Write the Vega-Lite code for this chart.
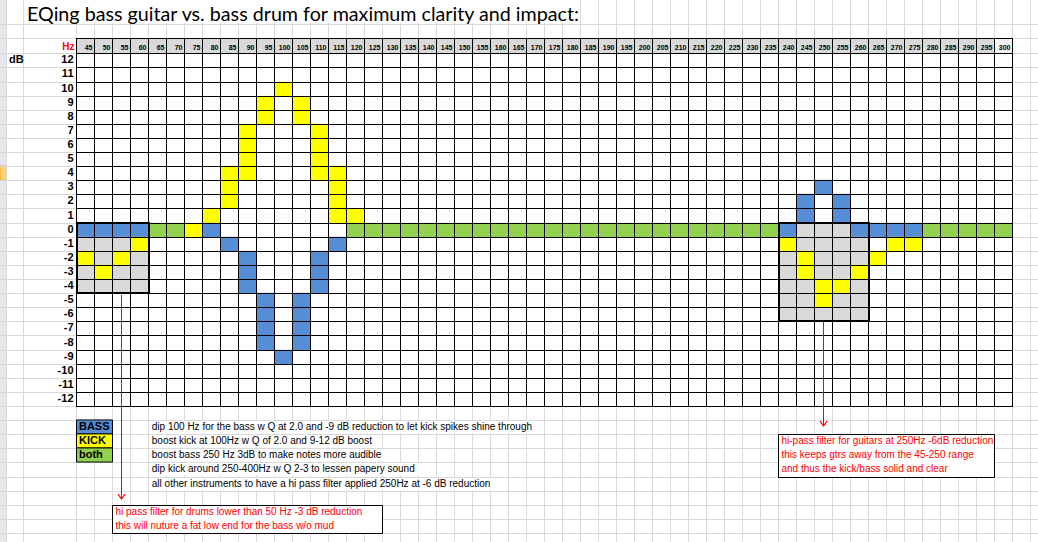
{
  "$schema": "https://vega.github.io/schema/vega-lite/v6.json",
  "width": 1038,
  "height": 542,
  "padding": 0,
  "autosize": {"type": "none"},
  "background": "white",
  "config": {"view": {"stroke": null}},
  "datasets": {
    "cells": [
      {"hz": 100, "db": 10, "who": "kick"},
      {"hz": 95, "db": 9, "who": "kick"}, {"hz": 105, "db": 9, "who": "kick"},
      {"hz": 95, "db": 8, "who": "kick"}, {"hz": 105, "db": 8, "who": "kick"},
      {"hz": 90, "db": 7, "who": "kick"}, {"hz": 110, "db": 7, "who": "kick"},
      {"hz": 90, "db": 6, "who": "kick"}, {"hz": 110, "db": 6, "who": "kick"},
      {"hz": 90, "db": 5, "who": "kick"}, {"hz": 110, "db": 5, "who": "kick"},
      {"hz": 85, "db": 4, "who": "kick"}, {"hz": 90, "db": 4, "who": "kick"}, {"hz": 110, "db": 4, "who": "kick"}, {"hz": 115, "db": 4, "who": "kick"},
      {"hz": 85, "db": 3, "who": "kick"}, {"hz": 115, "db": 3, "who": "kick"}, {"hz": 250, "db": 3, "who": "bass"},
      {"hz": 85, "db": 2, "who": "kick"}, {"hz": 115, "db": 2, "who": "kick"}, {"hz": 245, "db": 2, "who": "bass"}, {"hz": 255, "db": 2, "who": "bass"},
      {"hz": 80, "db": 1, "who": "kick"}, {"hz": 115, "db": 1, "who": "kick"}, {"hz": 120, "db": 1, "who": "kick"}, {"hz": 245, "db": 1, "who": "bass"}, {"hz": 255, "db": 1, "who": "bass"},
      {"hz": 45, "db": 0, "who": "bass"}, {"hz": 50, "db": 0, "who": "bass"}, {"hz": 55, "db": 0, "who": "bass"}, {"hz": 60, "db": 0, "who": "bass"},
      {"hz": 65, "db": 0, "who": "both"}, {"hz": 70, "db": 0, "who": "both"}, {"hz": 75, "db": 0, "who": "kick"}, {"hz": 80, "db": 0, "who": "bass"},
      {"hz": 120, "db": 0, "who": "both"}, {"hz": 125, "db": 0, "who": "both"}, {"hz": 130, "db": 0, "who": "both"}, {"hz": 135, "db": 0, "who": "both"},
      {"hz": 140, "db": 0, "who": "both"}, {"hz": 145, "db": 0, "who": "both"}, {"hz": 150, "db": 0, "who": "both"}, {"hz": 155, "db": 0, "who": "both"},
      {"hz": 160, "db": 0, "who": "both"}, {"hz": 165, "db": 0, "who": "both"}, {"hz": 170, "db": 0, "who": "both"}, {"hz": 175, "db": 0, "who": "both"},
      {"hz": 180, "db": 0, "who": "both"}, {"hz": 185, "db": 0, "who": "both"}, {"hz": 190, "db": 0, "who": "both"}, {"hz": 195, "db": 0, "who": "both"},
      {"hz": 200, "db": 0, "who": "both"}, {"hz": 205, "db": 0, "who": "both"}, {"hz": 210, "db": 0, "who": "both"}, {"hz": 215, "db": 0, "who": "both"},
      {"hz": 220, "db": 0, "who": "both"}, {"hz": 225, "db": 0, "who": "both"}, {"hz": 230, "db": 0, "who": "both"}, {"hz": 235, "db": 0, "who": "both"},
      {"hz": 240, "db": 0, "who": "bass"}, {"hz": 245, "db": 0, "who": "filter"}, {"hz": 250, "db": 0, "who": "filter"}, {"hz": 255, "db": 0, "who": "filter"},
      {"hz": 260, "db": 0, "who": "bass"}, {"hz": 265, "db": 0, "who": "bass"}, {"hz": 270, "db": 0, "who": "bass"}, {"hz": 275, "db": 0, "who": "bass"},
      {"hz": 280, "db": 0, "who": "both"}, {"hz": 285, "db": 0, "who": "both"}, {"hz": 290, "db": 0, "who": "both"}, {"hz": 295, "db": 0, "who": "both"}, {"hz": 300, "db": 0, "who": "both"},
      {"hz": 45, "db": -1, "who": "filter"}, {"hz": 50, "db": -1, "who": "filter"}, {"hz": 55, "db": -1, "who": "filter"}, {"hz": 60, "db": -1, "who": "kick"},
      {"hz": 85, "db": -1, "who": "bass"}, {"hz": 115, "db": -1, "who": "bass"},
      {"hz": 240, "db": -1, "who": "kick"}, {"hz": 245, "db": -1, "who": "filter"}, {"hz": 250, "db": -1, "who": "filter"}, {"hz": 255, "db": -1, "who": "filter"}, {"hz": 260, "db": -1, "who": "filter"},
      {"hz": 270, "db": -1, "who": "kick"}, {"hz": 275, "db": -1, "who": "kick"},
      {"hz": 45, "db": -2, "who": "kick"}, {"hz": 50, "db": -2, "who": "filter"}, {"hz": 55, "db": -2, "who": "kick"}, {"hz": 60, "db": -2, "who": "filter"},
      {"hz": 90, "db": -2, "who": "bass"}, {"hz": 110, "db": -2, "who": "bass"},
      {"hz": 240, "db": -2, "who": "filter"}, {"hz": 245, "db": -2, "who": "kick"}, {"hz": 250, "db": -2, "who": "filter"}, {"hz": 255, "db": -2, "who": "filter"}, {"hz": 260, "db": -2, "who": "filter"},
      {"hz": 265, "db": -2, "who": "kick"},
      {"hz": 45, "db": -3, "who": "filter"}, {"hz": 50, "db": -3, "who": "kick"}, {"hz": 55, "db": -3, "who": "filter"}, {"hz": 60, "db": -3, "who": "filter"},
      {"hz": 90, "db": -3, "who": "bass"}, {"hz": 110, "db": -3, "who": "bass"},
      {"hz": 240, "db": -3, "who": "filter"}, {"hz": 245, "db": -3, "who": "kick"}, {"hz": 250, "db": -3, "who": "filter"}, {"hz": 255, "db": -3, "who": "filter"}, {"hz": 260, "db": -3, "who": "kick"},
      {"hz": 45, "db": -4, "who": "filter"}, {"hz": 50, "db": -4, "who": "filter"}, {"hz": 55, "db": -4, "who": "filter"}, {"hz": 60, "db": -4, "who": "filter"},
      {"hz": 90, "db": -4, "who": "bass"}, {"hz": 110, "db": -4, "who": "bass"},
      {"hz": 240, "db": -4, "who": "filter"}, {"hz": 245, "db": -4, "who": "filter"}, {"hz": 250, "db": -4, "who": "kick"}, {"hz": 255, "db": -4, "who": "kick"}, {"hz": 260, "db": -4, "who": "filter"},
      {"hz": 95, "db": -5, "who": "bass"}, {"hz": 105, "db": -5, "who": "bass"},
      {"hz": 240, "db": -5, "who": "filter"}, {"hz": 245, "db": -5, "who": "filter"}, {"hz": 250, "db": -5, "who": "kick"}, {"hz": 255, "db": -5, "who": "filter"}, {"hz": 260, "db": -5, "who": "filter"},
      {"hz": 95, "db": -6, "who": "bass"}, {"hz": 105, "db": -6, "who": "bass"},
      {"hz": 240, "db": -6, "who": "filter"}, {"hz": 245, "db": -6, "who": "filter"}, {"hz": 250, "db": -6, "who": "filter"}, {"hz": 255, "db": -6, "who": "filter"}, {"hz": 260, "db": -6, "who": "filter"},
      {"hz": 95, "db": -7, "who": "bass"}, {"hz": 105, "db": -7, "who": "bass"},
      {"hz": 95, "db": -8, "who": "bass"}, {"hz": 105, "db": -8, "who": "bass"},
      {"hz": 100, "db": -9, "who": "bass"}
    ],
    "cols": [
      {"hz": 45}, {"hz": 50}, {"hz": 55}, {"hz": 60}, {"hz": 65}, {"hz": 70}, {"hz": 75}, {"hz": 80}, {"hz": 85}, {"hz": 90},
      {"hz": 95}, {"hz": 100}, {"hz": 105}, {"hz": 110}, {"hz": 115}, {"hz": 120}, {"hz": 125}, {"hz": 130}, {"hz": 135}, {"hz": 140},
      {"hz": 145}, {"hz": 150}, {"hz": 155}, {"hz": 160}, {"hz": 165}, {"hz": 170}, {"hz": 175}, {"hz": 180}, {"hz": 185}, {"hz": 190},
      {"hz": 195}, {"hz": 200}, {"hz": 205}, {"hz": 210}, {"hz": 215}, {"hz": 220}, {"hz": 225}, {"hz": 230}, {"hz": 235}, {"hz": 240},
      {"hz": 245}, {"hz": 250}, {"hz": 255}, {"hz": 260}, {"hz": 265}, {"hz": 270}, {"hz": 275}, {"hz": 280}, {"hz": 285}, {"hz": 290},
      {"hz": 295}, {"hz": 300}
    ],
    "dbs": [
      {"db": 12}, {"db": 11}, {"db": 10}, {"db": 9}, {"db": 8}, {"db": 7}, {"db": 6}, {"db": 5}, {"db": 4}, {"db": 3}, {"db": 2}, {"db": 1}, {"db": 0},
      {"db": -1}, {"db": -2}, {"db": -3}, {"db": -4}, {"db": -5}, {"db": -6}, {"db": -7}, {"db": -8}, {"db": -9}, {"db": -10}, {"db": -11}, {"db": -12}
    ],
    "vb": [
      {"b": 23.056}, {"b": 27.778},
      {"b": 42.5}, {"b": 47.5}, {"b": 52.5}, {"b": 57.5}, {"b": 62.5}, {"b": 67.5}, {"b": 72.5}, {"b": 77.5}, {"b": 82.5}, {"b": 87.5},
      {"b": 92.5}, {"b": 97.5}, {"b": 102.5}, {"b": 107.5}, {"b": 112.5}, {"b": 117.5}, {"b": 122.5}, {"b": 127.5}, {"b": 132.5}, {"b": 137.5},
      {"b": 142.5}, {"b": 147.5}, {"b": 152.5}, {"b": 157.5}, {"b": 162.5}, {"b": 167.5}, {"b": 172.5}, {"b": 177.5}, {"b": 182.5}, {"b": 187.5},
      {"b": 192.5}, {"b": 197.5}, {"b": 202.5}, {"b": 207.5}, {"b": 212.5}, {"b": 217.5}, {"b": 222.5}, {"b": 227.5}, {"b": 232.5}, {"b": 237.5},
      {"b": 242.5}, {"b": 247.5}, {"b": 252.5}, {"b": 257.5}, {"b": 262.5}, {"b": 267.5}, {"b": 272.5}, {"b": 277.5}, {"b": 282.5}, {"b": 287.5},
      {"b": 292.5}, {"b": 297.5}, {"b": 302.5}, {"b": 307.5}
    ],
    "hb": [
      {"b": 14.577}, {"b": 13.563},
      {"b": 12.5}, {"b": 11.5}, {"b": 10.5}, {"b": 9.5}, {"b": 8.5}, {"b": 7.5}, {"b": 6.5}, {"b": 5.5}, {"b": 4.5}, {"b": 3.5}, {"b": 2.5}, {"b": 1.5}, {"b": 0.5},
      {"b": -0.5}, {"b": -1.5}, {"b": -2.5}, {"b": -3.5}, {"b": -4.5}, {"b": -5.5}, {"b": -6.5}, {"b": -7.5}, {"b": -8.5}, {"b": -9.5}, {"b": -10.5}, {"b": -11.5}, {"b": -12.5},
      {"b": -13.5}, {"b": -14.5}, {"b": -15.5}, {"b": -16.5}, {"b": -17.5}, {"b": -18.5}, {"b": -19.5}, {"b": -20.5}, {"b": -21.5}
    ],
    "legend": [
      {"label": "BASS", "who": "bass", "db": -14},
      {"label": "KICK", "who": "kick", "db": -15},
      {"label": "both", "who": "both", "db": -16}
    ],
    "notes": [
      {"db": -14, "upto": 172.5, "text": "dip 100 Hz for the bass w Q at 2.0 and -9 dB reduction to let kick spikes shine through"},
      {"db": -15, "upto": 127.5, "text": "boost kick at 100Hz w Q of 2.0 and 9-12 dB boost"},
      {"db": -16, "upto": 132.5, "text": "boost bass 250 Hz 3dB to make notes more audible"},
      {"db": -17, "upto": 142.5, "text": "dip kick around 250-400Hz w Q 2-3 to lessen papery sound"},
      {"db": -18, "upto": 162.5, "text": "all other instruments to have a hi pass filter applied 250Hz at -6 dB reduction"}
    ],
    "passbands": [
      {"lo": 42.5, "hi": 62.5, "top": 0.5, "bottom": -4.5},
      {"lo": 237.5, "hi": 262.5, "top": 0.5, "bottom": -6.5}
    ],
    "arrows": [
      {"hz": 55, "from": -4.62, "to": -19.1},
      {"hz": 250, "from": -6.56, "to": -13.92}
    ],
    "callouts": [
      {"lo": 52.5, "hi": 127.5, "top": -19.5, "bottom": -21.5},
      {"lo": 237.5, "hi": 297.5, "top": -14.5, "bottom": -17.5}
    ],
    "callout_text": [
      {"lo": 52.5, "db": -20, "text": "hi pass filter for drums lower than 50 Hz -3 dB reduction"},
      {"lo": 52.5, "db": -21, "text": "this will nuture a fat low end for the bass w/o mud"},
      {"lo": 237.5, "db": -15, "text": "hi-pass filter for guitars at 250Hz -6dB reduction"},
      {"lo": 237.5, "db": -16, "text": "this keeps gtrs away from the 45-250 range"},
      {"lo": 237.5, "db": -17, "text": "and thus the kick/bass solid and clear"}
    ]
  },
  "layer": [
    {
      "data": {"values": [{}]},
      "mark": {"type": "rect", "fill": "#e4e7eb"},
      "encoding": {
        "x": {"datum": 21.25, "type": "quantitative", "scale": {"domain": [21.25, 309.583], "nice": false, "zero": false}, "axis": null},
        "x2": {"datum": 23.056},
        "y": {"datum": 16.278, "type": "quantitative", "scale": {"domain": [-22.14, 16.278], "nice": false, "zero": false, "round": true}, "axis": null},
        "y2": {"datum": -22.14}
      }
    },
    {
      "data": {"values": [{}]},
      "mark": {"type": "rect", "fill": "#fbd46c", "stroke": "#e2a03a", "strokeWidth": 1},
      "encoding": {
        "x": {"datum": 21.25, "type": "quantitative", "scale": {"domain": [21.25, 309.583], "nice": false, "zero": false}, "axis": null},
        "x2": {"datum": 23.056},
        "y": {"datum": 4.5, "type": "quantitative", "scale": {"domain": [-22.14, 16.278], "nice": false, "zero": false, "round": true}, "axis": null},
        "y2": {"datum": 3.5}
      }
    },
    {
      "data": {"name": "vb"},
      "mark": {"type": "rule", "stroke": "#d9d9d9", "strokeWidth": 1},
      "encoding": {
        "x": {"field": "b", "type": "quantitative", "scale": {"domain": [21.25, 309.583], "nice": false, "zero": false}, "axis": null},
        "y": {"datum": 16.278, "type": "quantitative", "scale": {"domain": [-22.14, 16.278], "nice": false, "zero": false, "round": true}, "axis": null},
        "y2": {"datum": -22.14}
      }
    },
    {
      "data": {"values": [{}]},
      "mark": {"type": "rect", "fill": "white"},
      "encoding": {
        "x": {"datum": 27.9, "type": "quantitative", "scale": {"domain": [21.25, 309.583], "nice": false, "zero": false}, "axis": null},
        "x2": {"datum": 182.3},
        "y": {"datum": 16.4, "type": "quantitative", "scale": {"domain": [-22.14, 16.278], "nice": false, "zero": false, "round": true}, "axis": null},
        "y2": {"datum": 14.62}
      }
    },
    {
      "data": {"name": "notes"},
      "mark": {"type": "rule", "stroke": "white", "strokeWidth": 13, "strokeCap": "butt", "xOffset": -1, "x2Offset": 1},
      "encoding": {
        "x": {"field": "upto", "type": "quantitative", "scale": {"domain": [21.25, 309.583], "nice": false, "zero": false}, "axis": null},
        "x2": {"datum": 62.5},
        "y": {"field": "db", "type": "quantitative", "scale": {"domain": [-22.14, 16.278], "nice": false, "zero": false, "round": true}, "axis": null}
      }
    },
    {
      "data": {"name": "hb"},
      "mark": {"type": "rule", "stroke": "#d9d9d9", "strokeWidth": 1, "yOffset": 0.5, "y2Offset": 0.5},
      "encoding": {
        "y": {"field": "b", "type": "quantitative", "scale": {"domain": [-22.14, 16.278], "nice": false, "zero": false, "round": true}, "axis": null},
        "x": {"datum": 21.25, "type": "quantitative", "scale": {"domain": [21.25, 309.583], "nice": false, "zero": false}, "axis": null},
        "x2": {"datum": 309.583}
      }
    },
    {
      "data": {"name": "cols"},
      "mark": {"type": "point", "shape": "M-1,-0.8333H1V0.8333H-1Z", "size": 324, "filled": true, "opacity": 1},
      "encoding": {
        "x": {"field": "hz", "type": "quantitative", "scale": {"domain": [21.25, 309.583], "nice": false, "zero": false}, "axis": null},
        "y": {"datum": 13.03, "type": "quantitative", "scale": {"domain": [-22.14, 16.278], "nice": false, "zero": false, "round": true}, "axis": null},
        "fill": {"condition": {"test": "datum.hz == 300", "value": "#f2f2f2"}, "value": "#d9d9d9"}
      }
    },
    {
      "data": {"name": "cells"},
      "mark": {"type": "point", "shape": "M-1,-0.794H1V0.794H-1Z", "size": 324, "filled": true, "opacity": 1},
      "encoding": {
        "x": {"field": "hz", "type": "quantitative", "scale": {"domain": [21.25, 309.583], "nice": false, "zero": false}, "axis": null},
        "y": {"field": "db", "type": "quantitative", "scale": {"domain": [-22.14, 16.278], "nice": false, "zero": false, "round": true}, "axis": null},
        "color": {"field": "who", "type": "nominal", "scale": {"domain": ["bass", "kick", "both", "filter"], "range": ["#558ed5", "#ffff00", "#92d050", "#d9d9d9"]}, "legend": null}
      }
    },
    {
      "data": {"name": "vb"},
      "transform": [{"filter": "datum.b >= 42 && datum.b <= 303"}],
      "mark": {"type": "rule", "stroke": "black", "strokeWidth": 1, "y2Offset": 1},
      "encoding": {
        "x": {"field": "b", "type": "quantitative", "scale": {"domain": [21.25, 309.583], "nice": false, "zero": false}, "axis": null},
        "y": {"datum": 13.563, "type": "quantitative", "scale": {"domain": [-22.14, 16.278], "nice": false, "zero": false, "round": true}, "axis": null},
        "y2": {"datum": -12.5}
      }
    },
    {
      "data": {"name": "hb"},
      "transform": [{"filter": "datum.b <= 13.6 && datum.b >= -12.6"}],
      "mark": {"type": "rule", "stroke": "black", "strokeWidth": 1, "yOffset": 0.5, "y2Offset": 0.5, "xOffset": -0.5, "x2Offset": 0.5},
      "encoding": {
        "y": {"field": "b", "type": "quantitative", "scale": {"domain": [-22.14, 16.278], "nice": false, "zero": false, "round": true}, "axis": null},
        "x": {"datum": 42.5, "type": "quantitative", "scale": {"domain": [21.25, 309.583], "nice": false, "zero": false}, "axis": null},
        "x2": {"datum": 302.5}
      }
    },
    {
      "data": {"name": "passbands"},
      "mark": {"type": "rect", "fill": "transparent", "stroke": "black", "strokeWidth": 2, "xOffset": 0.5, "x2Offset": 0.5},
      "encoding": {
        "x": {"field": "lo", "type": "quantitative", "scale": {"domain": [21.25, 309.583], "nice": false, "zero": false}, "axis": null},
        "x2": {"field": "hi"},
        "y": {"field": "top", "type": "quantitative", "scale": {"domain": [-22.14, 16.278], "nice": false, "zero": false, "round": true}, "axis": null},
        "y2": {"field": "bottom"}
      }
    },
    {
      "data": {"name": "cols"},
      "mark": {"type": "text", "align": "right", "baseline": "alphabetic", "dx": 7, "font": "Liberation Sans", "fontSize": 7, "fontWeight": "bold", "color": "black"},
      "encoding": {
        "x": {"field": "hz", "type": "quantitative", "scale": {"domain": [21.25, 309.583], "nice": false, "zero": false}, "axis": null},
        "y": {"datum": 12.7, "type": "quantitative", "scale": {"domain": [-22.14, 16.278], "nice": false, "zero": false, "round": true}, "axis": null},
        "text": {"field": "hz", "type": "nominal"}
      }
    },
    {
      "data": {"values": [{}]},
      "mark": {"type": "text", "text": "Hz", "align": "right", "baseline": "alphabetic", "font": "Liberation Sans", "fontSize": 10, "fontWeight": "bold", "color": "#ff0000"},
      "encoding": {
        "x": {"datum": 41.94, "type": "quantitative", "scale": {"domain": [21.25, 309.583], "nice": false, "zero": false}, "axis": null},
        "y": {"datum": 12.7, "type": "quantitative", "scale": {"domain": [-22.14, 16.278], "nice": false, "zero": false, "round": true}, "axis": null}
      }
    },
    {
      "data": {"values": [{}]},
      "mark": {"type": "text", "text": "dB", "align": "left", "baseline": "middle", "font": "Liberation Sans", "fontSize": 11, "fontWeight": "bold", "color": "black"},
      "encoding": {
        "x": {"datum": 23.75, "type": "quantitative", "scale": {"domain": [21.25, 309.583], "nice": false, "zero": false}, "axis": null},
        "y": {"datum": 12, "type": "quantitative", "scale": {"domain": [-22.14, 16.278], "nice": false, "zero": false, "round": true}, "axis": null}
      }
    },
    {
      "data": {"name": "dbs"},
      "mark": {"type": "text", "align": "right", "baseline": "middle", "font": "Liberation Sans", "fontSize": 11, "fontWeight": "bold", "color": "black"},
      "encoding": {
        "x": {"datum": 41.67, "type": "quantitative", "scale": {"domain": [21.25, 309.583], "nice": false, "zero": false}, "axis": null},
        "y": {"field": "db", "type": "quantitative", "scale": {"domain": [-22.14, 16.278], "nice": false, "zero": false, "round": true}, "axis": null},
        "text": {"field": "db", "type": "nominal"}
      }
    },
    {
      "data": {"name": "legend"},
      "mark": {"type": "point", "shape": "M-1,-0.3917H1V0.3917H-1Z", "size": 1296, "filled": true, "opacity": 1, "stroke": "black", "strokeWidth": 1},
      "encoding": {
        "x": {"datum": 47.5, "type": "quantitative", "scale": {"domain": [21.25, 309.583], "nice": false, "zero": false}, "axis": null},
        "y": {"field": "db", "type": "quantitative", "scale": {"domain": [-22.14, 16.278], "nice": false, "zero": false, "round": true}, "axis": null},
        "color": {"field": "who", "type": "nominal", "scale": {"domain": ["bass", "kick", "both", "filter"], "range": ["#558ed5", "#ffff00", "#92d050", "#d9d9d9"]}, "legend": null}
      }
    },
    {
      "data": {"name": "legend"},
      "mark": {"type": "text", "align": "left", "baseline": "middle", "font": "Liberation Sans", "fontSize": 11, "fontWeight": "bold", "color": "black"},
      "encoding": {
        "x": {"datum": 43.19, "type": "quantitative", "scale": {"domain": [21.25, 309.583], "nice": false, "zero": false}, "axis": null},
        "y": {"field": "db", "type": "quantitative", "scale": {"domain": [-22.14, 16.278], "nice": false, "zero": false, "round": true}, "axis": null},
        "text": {"field": "label", "type": "nominal"}
      }
    },
    {
      "data": {"name": "notes"},
      "mark": {"type": "text", "align": "left", "baseline": "middle", "font": "Liberation Sans", "fontSize": 10, "color": "black"},
      "encoding": {
        "x": {"datum": 63.42, "type": "quantitative", "scale": {"domain": [21.25, 309.583], "nice": false, "zero": false}, "axis": null},
        "y": {"field": "db", "type": "quantitative", "scale": {"domain": [-22.14, 16.278], "nice": false, "zero": false, "round": true}, "axis": null},
        "text": {"field": "text", "type": "nominal"}
      }
    },
    {
      "data": {"name": "arrows"},
      "mark": {"type": "rule", "stroke": "#ff0000", "strokeWidth": 1},
      "encoding": {
        "x": {"field": "hz", "type": "quantitative", "scale": {"domain": [21.25, 309.583], "nice": false, "zero": false}, "axis": null},
        "y": {"field": "from", "type": "quantitative", "scale": {"domain": [-22.14, 16.278], "nice": false, "zero": false, "round": true}, "axis": null},
        "y2": {"field": "to"}
      }
    },
    {
      "data": {"name": "arrows"},
      "mark": {"type": "point", "shape": "M-1,-1.4L0,0L1,-1.4", "filled": false, "stroke": "#ff0000", "strokeWidth": 1.2, "size": 49, "opacity": 1},
      "encoding": {
        "x": {"field": "hz", "type": "quantitative", "scale": {"domain": [21.25, 309.583], "nice": false, "zero": false}, "axis": null},
        "y": {"field": "to", "type": "quantitative", "scale": {"domain": [-22.14, 16.278], "nice": false, "zero": false, "round": true}, "axis": null}
      }
    },
    {
      "data": {"name": "callouts"},
      "mark": {"type": "rect", "fill": "white", "stroke": "black", "strokeWidth": 1, "yOffset": 0.5, "y2Offset": 0.5},
      "encoding": {
        "x": {"field": "lo", "type": "quantitative", "scale": {"domain": [21.25, 309.583], "nice": false, "zero": false}, "axis": null},
        "x2": {"field": "hi"},
        "y": {"field": "top", "type": "quantitative", "scale": {"domain": [-22.14, 16.278], "nice": false, "zero": false, "round": true}, "axis": null},
        "y2": {"field": "bottom"}
      }
    },
    {
      "data": {"name": "callout_text"},
      "mark": {"type": "text", "align": "left", "baseline": "middle", "dx": 3, "font": "Liberation Sans", "fontSize": 10, "color": "#ff0000"},
      "encoding": {
        "x": {"field": "lo", "type": "quantitative", "scale": {"domain": [21.25, 309.583], "nice": false, "zero": false}, "axis": null},
        "y": {"field": "db", "type": "quantitative", "scale": {"domain": [-22.14, 16.278], "nice": false, "zero": false, "round": true}, "axis": null},
        "text": {"field": "text", "type": "nominal"}
      }
    },
    {
      "data": {"values": [{}]},
      "mark": {"type": "text", "text": "EQing bass guitar vs. bass drum for maximum clarity and impact:", "align": "left", "baseline": "alphabetic", "font": "Lato", "fontSize": 19.7, "color": "black"},
      "encoding": {
        "x": {"datum": 28.75, "type": "quantitative", "scale": {"domain": [21.25, 309.583], "nice": false, "zero": false}, "axis": null},
        "y": {"datum": 14.81, "type": "quantitative", "scale": {"domain": [-22.14, 16.278], "nice": false, "zero": false, "round": true}, "axis": null}
      }
    }
  ]
}
